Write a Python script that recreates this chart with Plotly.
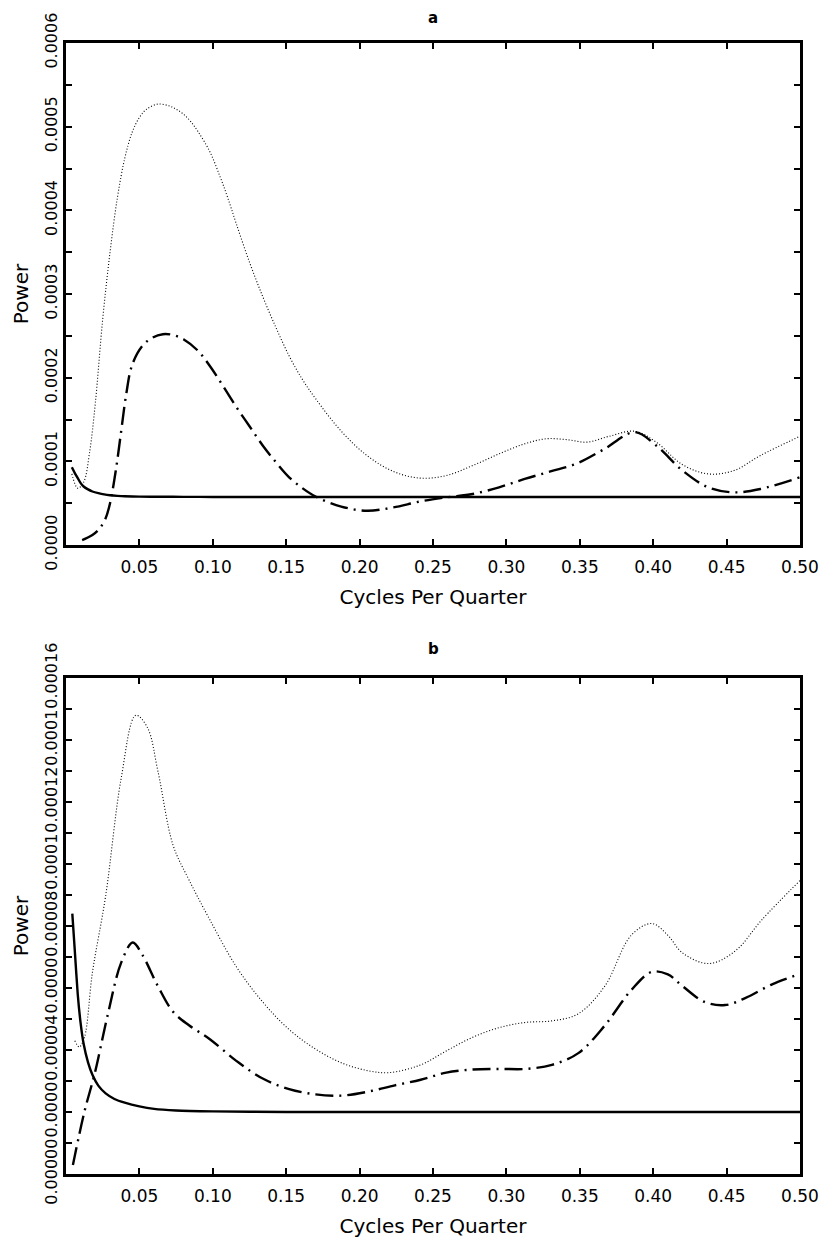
import plotly.graph_objects as go

# ---------------- data (panel a: units of 1e-4) ----------------
a_x_solid = [0.004, 0.006, 0.008, 0.010, 0.012, 0.015, 0.018, 0.022, 0.026, 0.030, 0.035, 0.040, 0.050,
             0.065, 0.080, 0.10, 0.20, 0.30, 0.40, 0.50]
a_solid = [0.93, 0.86, 0.80, 0.74, 0.70, 0.665, 0.64, 0.62, 0.605, 0.595, 0.588, 0.583, 0.579,
           0.577, 0.576, 0.575, 0.575, 0.575, 0.575, 0.575]

a_x_dot = [0.004, 0.008, 0.012, 0.016, 0.020, 0.025, 0.030, 0.035, 0.040, 0.045, 0.050, 0.055,
           0.0625, 0.070, 0.075, 0.080, 0.085, 0.090, 0.098, 0.105, 0.110, 0.116, 0.125, 0.134,
           0.143, 0.152, 0.161, 0.170, 0.1875, 0.205, 0.223, 0.241, 0.259, 0.277, 0.295, 0.3125,
           0.327, 0.341, 0.355, 0.370, 0.3875, 0.402, 0.420, 0.4375, 0.455, 0.473, 0.50]
a_dot = [0.85, 0.68, 0.75, 1.10, 1.70, 2.70, 3.50, 4.15, 4.62, 4.93, 5.11, 5.21,
         5.27, 5.25, 5.21, 5.15, 5.06, 4.94, 4.70, 4.40, 4.16, 3.84, 3.38, 2.97,
         2.60, 2.26, 1.98, 1.75, 1.36, 1.07, 0.88, 0.80, 0.83, 0.95, 1.09, 1.21,
         1.27, 1.26, 1.23, 1.30, 1.36, 1.23, 0.96, 0.85, 0.89, 1.07, 1.30]

a_x_dd = [0.011, 0.018, 0.023, 0.027, 0.030, 0.034, 0.0375, 0.041, 0.045, 0.052, 0.059, 0.066, 0.073,
          0.080, 0.090, 0.098, 0.107, 0.116, 0.125, 0.134, 0.143, 0.152, 0.161, 0.170, 0.1875, 0.205,
          0.223, 0.241, 0.259, 0.277, 0.295, 0.3125, 0.330, 0.348, 0.366, 0.3875, 0.402, 0.420, 0.4375,
          0.455, 0.473, 0.50]
a_dd = [0.06, 0.12, 0.20, 0.32, 0.50, 0.90, 1.35, 1.80, 2.15, 2.38, 2.48, 2.52, 2.51,
        2.46, 2.32, 2.14, 1.90, 1.65, 1.42, 1.19, 0.99, 0.81, 0.68, 0.58, 0.46, 0.41,
        0.45, 0.52, 0.57, 0.61, 0.69, 0.79, 0.88, 0.975, 1.14, 1.35, 1.19, 0.89, 0.69,
        0.63, 0.67, 0.81]

# ---------------- data (panel b: units of 1e-5) ----------------
b_x_solid = [0.0043, 0.006, 0.008, 0.010, 0.012, 0.015, 0.018, 0.022, 0.027, 0.033, 0.040, 0.050,
             0.060, 0.075, 0.10, 0.15, 0.20, 0.30, 0.40, 0.50]
b_solid = [8.4, 7.2, 5.8, 4.85, 4.2, 3.6, 3.2, 2.85, 2.6, 2.42, 2.3, 2.18,
           2.1, 2.05, 2.02, 2.0, 2.0, 2.0, 2.0, 2.0]

b_x_dot = [0.006, 0.009, 0.0125, 0.018, 0.027, 0.0376, 0.0476, 0.0555, 0.0626, 0.073, 0.084, 0.098,
           0.116, 0.134, 0.152, 0.170, 0.188, 0.206, 0.220, 0.2416, 0.259, 0.277, 0.295, 0.313,
           0.331, 0.349, 0.367, 0.385, 0.399, 0.410, 0.420, 0.438, 0.456, 0.474, 0.50]
b_dot = [4.3, 4.1, 4.4, 6.5, 8.97, 12.77, 14.8, 14.4, 13.0, 10.6, 9.47, 8.2,
         6.69, 5.55, 4.66, 4.03, 3.58, 3.33, 3.27, 3.52, 3.97, 4.41, 4.72, 4.89,
         4.94, 5.17, 6.06, 7.70, 8.08, 7.70, 7.13, 6.79, 7.2, 8.2, 9.47]

b_x_dd = [0.0047, 0.0125, 0.0197, 0.0286, 0.0376, 0.0455, 0.052, 0.0626, 0.073, 0.084, 0.098, 0.116,
          0.134, 0.152, 0.170, 0.188, 0.206, 0.224, 0.2416, 0.259, 0.277, 0.295, 0.313, 0.331,
          0.349, 0.367, 0.385, 0.399, 0.410, 0.420, 0.435, 0.449, 0.463, 0.481, 0.499]
b_dd = [0.29, 2.0, 3.27, 5.17, 6.82, 7.47, 7.07, 6.06, 5.23, 4.79, 4.35, 3.65,
        3.08, 2.74, 2.57, 2.53, 2.66, 2.86, 3.04, 3.27, 3.37, 3.39, 3.39, 3.52,
        3.9, 4.79, 5.93, 6.52, 6.44, 6.06, 5.55, 5.45, 5.68, 6.12, 6.44]

x_tickvals = [0.05, 0.10, 0.15, 0.20, 0.25, 0.30, 0.35, 0.40, 0.45, 0.50]
x_ticktext = ["0.05", "0.10", "0.15", "0.20", "0.25", "0.30", "0.35", "0.40", "0.45", "0.50"]
a_y_tickvals = [0.0, 0.0001, 0.0002, 0.0003, 0.0004, 0.0005, 0.0006]
a_y_ticktext = ["0.0000", "0.0001", "0.0002", "0.0003", "0.0004", "0.0005", "0.0006"]
b_y_tickvals = [0.0, 0.00002, 0.00004, 0.00006, 0.00008, 0.00010, 0.00012, 0.00014, 0.00016]
b_y_ticktext = ["0.00000", "0.0000", "0.00004", "0.0000", "0.00008", "0.0001", "0.00012", "0.0001", "0.00016"]

FONT = "DejaVu Sans"
DASHDOT = "18px,6px,2px,6px"
DOT = "1px,2px"

fig = go.Figure()


def traces(x_solid, y_solid, x_dot, y_dot, x_dd, y_dd, scale, xa, ya):
    fig.add_trace(go.Scatter(x=x_dot, y=[v * scale for v in y_dot], mode="lines",
                             line=dict(color="black", width=1.1, dash=DOT, shape="spline", smoothing=1.0),
                             xaxis=xa, yaxis=ya, showlegend=False))
    fig.add_trace(go.Scatter(x=x_dd, y=[v * scale for v in y_dd], mode="lines",
                             line=dict(color="black", width=2.4, dash=DASHDOT, shape="spline", smoothing=1.0),
                             xaxis=xa, yaxis=ya, showlegend=False))
    fig.add_trace(go.Scatter(x=x_solid, y=[v * scale for v in y_solid], mode="lines",
                             line=dict(color="black", width=2.4, shape="spline", smoothing=0.6),
                             xaxis=xa, yaxis=ya, showlegend=False))


traces(a_x_solid, a_solid, a_x_dot, a_dot, a_x_dd, a_dd, 1e-4, "x", "y")
traces(b_x_solid, b_solid, b_x_dot, b_dot, b_x_dd, b_dd, 1e-5, "x2", "y2")

xtick_font = dict(family=FONT, size=17, color="black")
ytick_font = dict(family=FONT, size=16, color="black")
title_font = dict(family=FONT, size=20, color="black")


def xaxis_cfg(anchor):
    return dict(range=[0, 0.5], tickvals=x_tickvals, ticktext=x_ticktext, ticks="inside", ticklen=6,
                tickwidth=1.5, tickcolor="black", showline=True, linewidth=2.5, linecolor="black",
                mirror="ticks", showgrid=False, zeroline=False, tickfont=xtick_font, anchor=anchor,
                ticklabelstandoff=5, automargin=False,
                title=dict(text="Cycles Per Quarter", font=title_font, standoff=14))


def yaxis_cfg(rng, tv, tt, minor_dtick, domain, anchor):
    return dict(range=rng, tickvals=tv, ticktext=tt, ticks="inside", ticklen=6, tickwidth=1.5,
                tickcolor="black", showline=True, linewidth=2.5, linecolor="black", mirror="ticks",
                showgrid=False, zeroline=False, tickfont=ytick_font, tickangle=-90, domain=domain,
                anchor=anchor, automargin=False,
                minor=dict(ticks="inside", ticklen=6, tickwidth=1.5, tickcolor="black", dtick=minor_dtick,
                           tick0=0, showgrid=False),
                title=dict(text="Power", font=title_font, standoff=8))


fig.update_layout(
    width=823, height=1238,
    margin=dict(l=66, r=23, t=43, b=64, autoexpand=False),
    paper_bgcolor="white", plot_bgcolor="white",
    xaxis=xaxis_cfg("y"),
    yaxis=yaxis_cfg([0, 0.0006], a_y_tickvals, a_y_ticktext, 0.00005, [0.5561, 1.0], "x"),
    xaxis2=xaxis_cfg("y2"),
    yaxis2=yaxis_cfg([0, 0.00016], b_y_tickvals, b_y_ticktext, 0.00001, [0.0, 0.4385], "x2"),
    annotations=[
        dict(text="<b>a</b>", x=0.5, y=1.0221, xref="paper", yref="paper", showarrow=False,
             xanchor="center", yanchor="middle", font=dict(family=FONT, size=15, color="black")),
        dict(text="<b>b</b>", x=0.5, y=0.4642, xref="paper", yref="paper", showarrow=False,
             xanchor="center", yanchor="middle", font=dict(family=FONT, size=15, color="black")),
    ],
)

fig.write_html("out.html")
